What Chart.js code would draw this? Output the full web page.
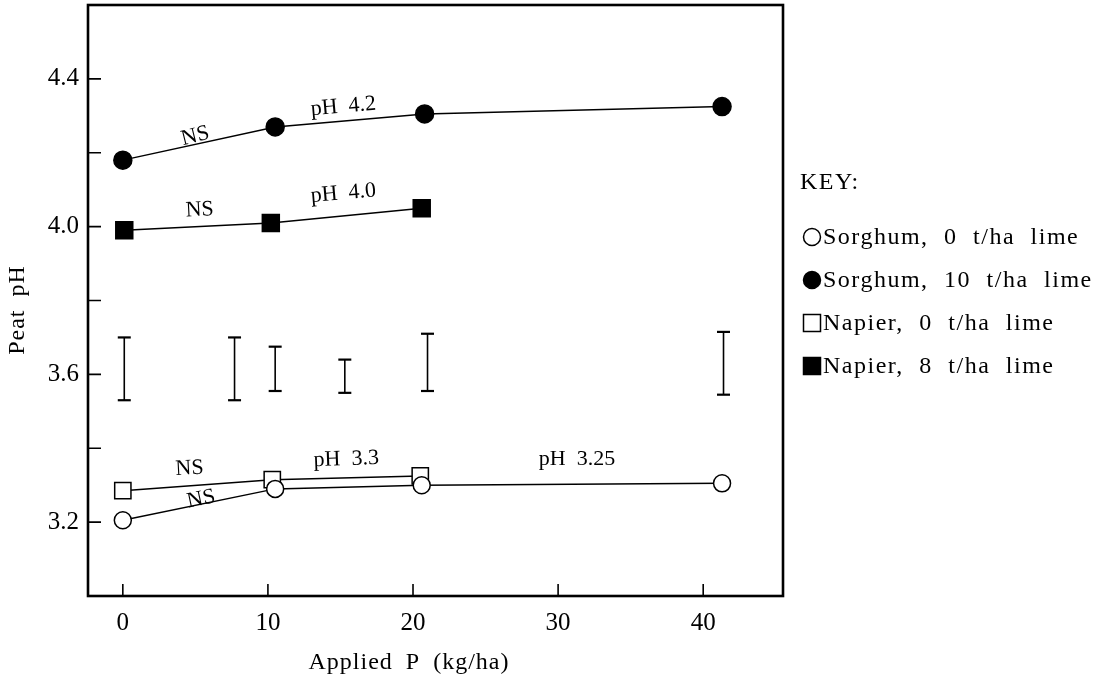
<!DOCTYPE html>
<html>
<head>
<meta charset="utf-8">
<script src="https://cdn.jsdelivr.net/npm/chart.js@4.4.1/dist/chart.umd.min.js"></script>
<style>
  html, body { margin: 0; padding: 0; background: #fff; }
  #wrap { width: 1109px; height: 679px; }
</style>
</head>
<body>
<div id="wrap"><canvas id="peatChart" width="1109" height="679"></canvas></div>
<script>
// values
var sorghum0X  = [0.0, 10.5, 20.6, 41.3];
var sorghum0Y  = [3.205, 3.29, 3.30, 3.305];
var sorghum10X = [0.0, 10.5, 20.8, 41.3];
var sorghum10Y = [4.18, 4.27, 4.305, 4.325];
var napier0X   = [0.0, 10.3, 20.5];
var napier0Y   = [3.285, 3.315, 3.325];
var napier8X   = [0.1, 10.2, 20.6];
var napier8Y   = [3.99, 4.01, 4.05];

// LSD bars
var barX  = [0.1, 7.7, 10.5, 15.3, 21.0, 41.4];
var barLo = [3.53, 3.53, 3.555, 3.55, 3.555, 3.545];
var barHi = [3.70, 3.70, 3.675, 3.64, 3.71, 3.715];

var xTickValues = [0, 10, 20, 30, 40];
var yTickValues = [3.2, 3.4, 3.6, 3.8, 4.0, 4.2, 4.4];
var yLabelled   = [3.2, 3.6, 4.0, 4.4];

// text on the plot: [text, x, y, angle in degrees]
var notes = [
  ['NS', 5.0, 4.245, -14],
  ['pH  4.2', 15.2, 4.325, -5],
  ['NS', 5.3, 4.045, -3],
  ['pH  4.0', 15.2, 4.09, -5],
  ['NS', 4.6, 3.345, -3],
  ['pH  3.3', 15.4, 3.37, -2],
  ['pH  3.25', 31.3, 3.37, 0],
  ['NS', 5.4, 3.262, -12]
];

var serif = '"Liberation Serif", "DejaVu Serif", serif';

function pts(xs, ys) {
  var out = [];
  for (var i = 0; i < xs.length; i++) out.push({x: xs[i], y: ys[i]});
  return out;
}

var datasets = [
  {
    label: 'Sorghum, 0 t/ha lime', data: pts(sorghum0X, sorghum0Y), order: 0,
    pointStyle: 'circle', pointRadius: 8.5, pointBackgroundColor: '#fff'
  },
  {
    label: 'Sorghum, 10 t/ha lime', data: pts(sorghum10X, sorghum10Y), order: 2,
    pointStyle: 'circle', pointRadius: 9, pointBackgroundColor: '#000'
  },
  {
    label: 'Napier, 0 t/ha lime', data: pts(napier0X, napier0Y), order: 1,
    pointStyle: 'rect', pointRadius: 11.5, pointBackgroundColor: '#fff'
  },
  {
    label: 'Napier, 8 t/ha lime', data: pts(napier8X, napier8Y), order: 3,
    pointStyle: 'rect', pointRadius: 12, pointBackgroundColor: '#000'
  }
];
datasets.forEach(function(d) {
  d.borderColor = '#000';
  d.borderWidth = 1.5;
  d.pointBorderColor = '#000';
  d.pointBorderWidth = 1.5;
  d.showLine = true;
  d.inLegend = true;
});

for (var i = 0; i < barX.length; i++) {
  datasets.push({
    label: 'LSD ' + i,
    data: [{x: barX[i], y: barLo[i]}, {x: barX[i], y: barHi[i]}],
    showLine: true,
    borderColor: '#000',
    borderWidth: 1.6,
    pointStyle: 'line',
    pointRadius: 6.5,
    pointBorderColor: '#000',
    pointBorderWidth: 2.2,
    order: 10
  });
}

var framePlugin = {
  id: 'frame',
  afterDatasetsDraw: function(chart) {
    var ctx = chart.ctx, a = chart.chartArea;
    var xs = chart.scales.x, ys = chart.scales.y;
    ctx.save();
    ctx.strokeStyle = '#000';
    ctx.lineWidth = 1.6;
    ctx.beginPath();
    xTickValues.forEach(function(v) {
      var px = xs.getPixelForValue(v);
      ctx.moveTo(px, a.bottom);
      ctx.lineTo(px, a.bottom - 12);
    });
    yTickValues.forEach(function(v) {
      var py = ys.getPixelForValue(v);
      ctx.moveTo(a.left, py);
      ctx.lineTo(a.left + 13, py);
    });
    ctx.stroke();
    ctx.lineWidth = 2.6;
    ctx.strokeRect(a.left, a.top, a.right - a.left, a.bottom - a.top);

    // notes
    ctx.fillStyle = '#000';
    ctx.font = '22px ' + serif;
    ctx.textAlign = 'center';
    ctx.textBaseline = 'middle';
    notes.forEach(function(n) {
      ctx.save();
      ctx.translate(xs.getPixelForValue(n[1]), ys.getPixelForValue(n[2]));
      ctx.rotate(n[3] * Math.PI / 180);
      ctx.fillText(n[0], 0, 0);
      ctx.restore();
    });

    // axis titles
    ctx.font = '24px ' + serif;
    ctx.letterSpacing = '1px';
    ctx.wordSpacing = '6px';
    ctx.fillText('Applied P (kg/ha)', 409, 663);
    ctx.save();
    ctx.translate(18, 310);
    ctx.rotate(-Math.PI / 2);
    ctx.fillText('Peat pH', 0, 0);
    ctx.restore();

    // key
    var kx = 812, ky = 183;
    ctx.textAlign = 'left';
    ctx.font = '24px ' + serif;
    ctx.letterSpacing = '1.5px';
    ctx.wordSpacing = '8px';
    ctx.fillText('KEY:', kx - 12, ky);
    var row = 0;
    chart.data.datasets.forEach(function(d) {
      if (!d.inLegend) return;
      var cy = ky + 54 + row * 43;
      ctx.lineWidth = 1.5;
      ctx.beginPath();
      if (d.pointStyle === 'circle') {
        ctx.arc(kx, cy, 8.5, 0, Math.PI * 2);
      } else {
        ctx.rect(kx - 8.5, cy - 8.5, 17, 17);
      }
      ctx.fillStyle = d.pointBackgroundColor;
      ctx.fill();
      ctx.stroke();
      ctx.fillStyle = '#000';
      ctx.fillText(d.label, kx + 11, cy + 1);
      row++;
    });
    ctx.restore();
  }
};

new Chart(document.getElementById('peatChart'), {
  type: 'scatter',
  data: { datasets: datasets },
  options: {
    responsive: false,
    animation: false,
    layout: { autoPadding: false, padding: { top: 5, right: 326, left: 0, bottom: 0 } },
    plugins: { legend: { display: false }, tooltip: { enabled: false } },
    scales: {
      x: {
        type: 'linear', min: -2.4, max: 45.5,
        afterFit: function(s) { s.height = 83; s.paddingLeft = 0; s.paddingRight = 0; },
        afterBuildTicks: function(s) { s.ticks = xTickValues.map(function(v) { return {value: v}; }); },
        grid: { display: false, drawTicks: false },
        border: { display: false },
        ticks: { color: '#000', font: { family: serif, size: 25 }, padding: 12 }
      },
      y: {
        type: 'linear', min: 3.0, max: 4.6,
        afterFit: function(s) { s.width = 88; s.paddingTop = 0; s.paddingBottom = 0; },
        afterBuildTicks: function(s) { s.ticks = yTickValues.map(function(v) { return {value: v}; }); },
        grid: { display: false, drawTicks: false },
        border: { display: false },
        ticks: {
          color: '#000', font: { family: serif, size: 25 }, padding: 9,
          callback: function(v) {
            var ok = yLabelled.some(function(l) { return Math.abs(l - v) < 1e-6; });
            return ok ? v.toFixed(1) : '';
          }
        }
      }
    }
  },
  plugins: [framePlugin]
});
</script>
</body>
</html>
